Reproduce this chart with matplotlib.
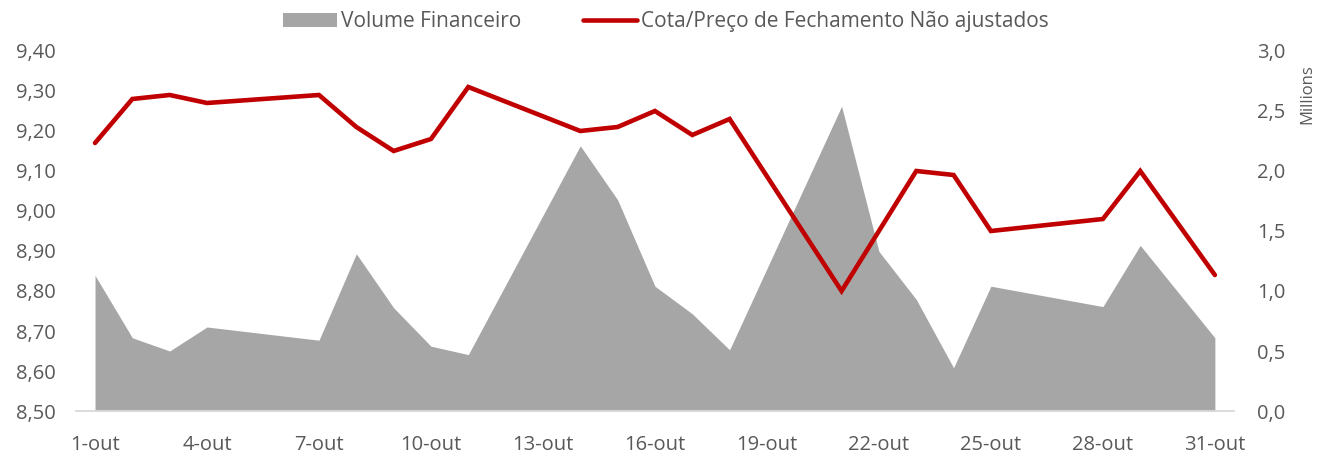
import matplotlib.pyplot as plt
from matplotlib.ticker import FuncFormatter, MultipleLocator

# dias de negociação em outubro
dias = [1, 2, 3, 4, 7, 8, 9, 10, 11, 14, 15, 16, 17, 18, 21, 22, 23, 24, 25, 28, 29, 31]
cota = [9.17, 9.28, 9.29, 9.27, 9.29, 9.21, 9.15, 9.18, 9.31, 9.20, 9.21, 9.25,
        9.19, 9.23, 8.80, 8.95, 9.10, 9.09, 8.95, 8.98, 9.10, 8.84]
# volume em milhões
volume = [1.13, 0.61, 0.50, 0.70, 0.59, 1.31, 0.86, 0.54, 0.47, 2.21, 1.76, 1.04,
          0.81, 0.51, 2.54, 1.33, 0.93, 0.36, 1.04, 0.87, 1.38, 0.61]
xticks = list(range(1, 32, 3))
xlabels = [f'{d}-out' for d in xticks]

txt = '#595959'
plt.rcParams['font.family'] = ['Open Sans', 'DejaVu Sans']

fig = plt.figure(figsize=(13.21, 4.54), dpi=100)
ax = fig.add_axes([0.0578, 0.0947, 0.876, 0.793])
ax2 = ax.twinx()

ax2.fill_between(dias, volume, 0, color='#A6A6A6', linewidth=0, label='Volume Financeiro')
ax.plot(dias, cota, color='#C00000', linewidth=3.3, solid_capstyle='round',
        solid_joinstyle='miter', label='Cota/Preço de Fechamento Não ajustados')

ax.set_zorder(ax2.get_zorder() + 1)
ax.patch.set_visible(False)

ax.set_xlim(0.5, 31.5)
ax.set_ylim(8.5, 9.4)
ax2.set_ylim(0, 3.0)
ax.yaxis.set_major_locator(MultipleLocator(0.1))
ax2.yaxis.set_major_locator(MultipleLocator(0.5))
ax.yaxis.set_major_formatter(FuncFormatter(lambda v, p: f'{v:.2f}'.replace('.', ',')))
ax2.yaxis.set_major_formatter(FuncFormatter(lambda v, p: f'{v:.1f}'.replace('.', ',')))
ax.set_xticks(xticks)
ax.set_xticklabels(xlabels)

for a in (ax, ax2):
    for s in a.spines.values():
        s.set_visible(False)
    a.tick_params(length=0, labelsize=14.5, labelcolor=txt)
ax.spines['bottom'].set_visible(True)
ax.spines['bottom'].set_color('#D9D9D9')
ax.spines['bottom'].set_linewidth(1.3)
ax.tick_params(axis='x', pad=17)
ax.tick_params(axis='y', pad=15)
ax2.tick_params(axis='y', pad=17)

fig.text(0.99, 0.793, 'Millions', rotation=90, color=txt, fontsize=12,
         ha='center', va='center')

h1, l1 = ax2.get_legend_handles_labels()
h2, l2 = ax.get_legend_handles_labels()
fig.legend(h1 + h2, l1 + l2, loc='center', bbox_to_anchor=(0.504, 0.952), ncol=2,
           frameon=False, fontsize=15, labelcolor=txt, handlelength=2.6,
           handletextpad=0.15, columnspacing=3.0)

fig.savefig('out.png', dpi=100)
